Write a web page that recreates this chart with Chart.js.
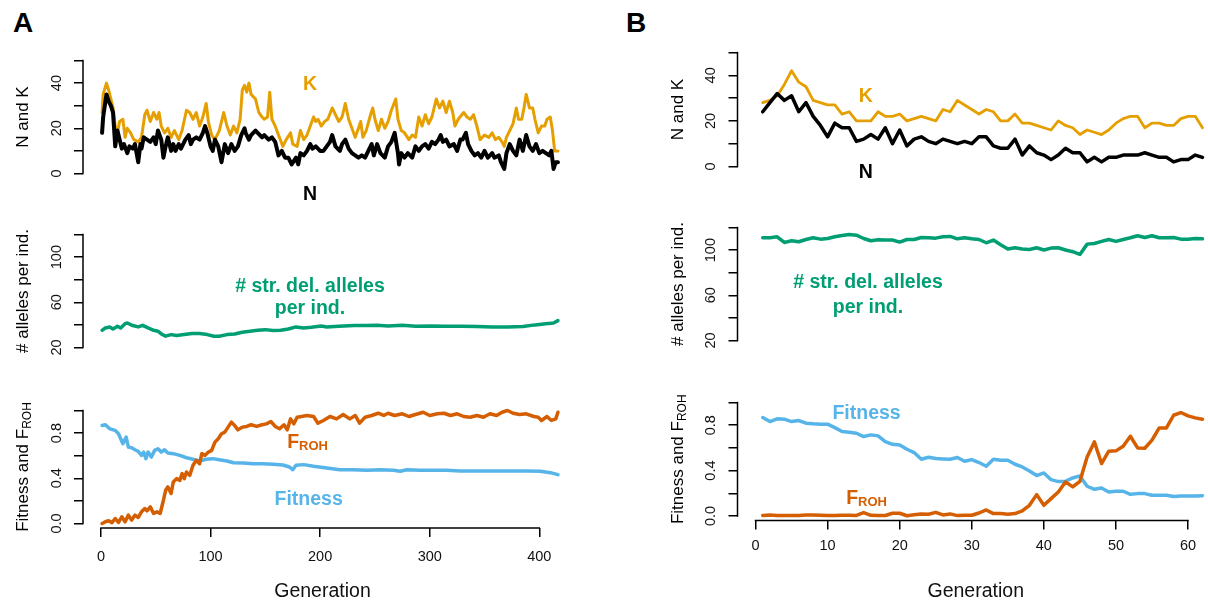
<!DOCTYPE html>
<html><head><meta charset="utf-8">
<script src="https://cdn.jsdelivr.net/npm/chart.js@4.4.1/dist/chart.umd.min.js"></script>
<style>
html,body{margin:0;padding:0;background:#fff;overflow:hidden;width:1208px;height:605px;position:relative;}
canvas{position:absolute;}
.letter{position:absolute;font:bold 28px "Liberation Sans",Arial,Helvetica,sans-serif;line-height:28px;color:#000;}
</style></head><body>
<div class="letter" style="left:13px;top:9px">A</div>
<div class="letter" style="left:626px;top:9px">B</div>
<canvas id="aTop" width="582" height="172" style="left:0px;top:36px"></canvas>
<canvas id="aMid" width="582" height="172" style="left:0px;top:210px"></canvas>
<canvas id="aBot" width="582" height="219" style="left:0px;top:386px"></canvas>
<canvas id="bTop" width="580" height="173" style="left:654px;top:28px"></canvas>
<canvas id="bMid" width="580" height="172" style="left:654px;top:203px"></canvas>
<canvas id="bBot" width="580" height="227" style="left:654px;top:378px"></canvas>
<script>
// ---------------- DATA ----------------
// Panel A (long simulation)
const genA_K = [1,2,5,7,8,11,13,15,17,20,22,24,27,30,34,37,40,42,45,48,51,53,55,58,61,64,67,71,74,78,81,84,87,90,93,96,98,101,104,108,112,115,118,121,124,127,129,131,133,135,137,141,144,147,149,152,154,156,159,162,166,169,173,175,179,182,185,188,191,194,196,198,201,204,207,211,214,217,220,223,226,229,232,235,237,239,242,246,248,250,253,256,259,262,265,269,271,274,277,281,284,287,290,293,296,299,302,306,309,312,315,318,321,323,326,331,334,337,340,343,346,350,354,357,360,363,366,368,370,373,376,379,381,384,386,388,391,394,396,399,402,405,407,410,412,414,417];
const kA = [27,35,40,37,35,29,21,18,23,24,16,20,18,15,14,16,26,28,23,27,24,27,21,18,20,16,19,15,19,28,27,24,27,21,25,31,23,17,15,19,27,21,17,21,18,24,37,39,36,40,35,33,27,25,24,25,36,24,21,17,12,15,18,13,12,19,15,17,21,25,23,24,21,23,24,29,26,23,25,31,24,20,16,20,23,16,19,26,29,24,19,24,20,23,28,33,24,19,18,15,17,16,25,21,26,22,25,33,29,32,27,32,27,21,24,27,25,24,26,21,15,17,16,18,15,16,14,12,16,19,22,29,24,24,29,35,29,29,24,18,21,21,24,25,19,10,10];
const genA_N = [1,2,5,7,9,11,13,15,17,19,21,24,26,29,31,34,36,37,39,42,45,48,50,52,55,57,59,61,64,66,68,71,73,77,80,82,84,87,90,93,95,97,100,102,104,107,110,113,116,119,122,125,128,131,132,135,137,141,143,147,149,153,156,159,162,165,168,171,174,178,180,182,185,188,191,193,196,200,203,206,209,211,214,218,220,223,226,229,232,235,238,241,244,247,249,252,255,259,262,265,268,271,272,274,277,280,284,287,290,293,296,299,302,305,308,310,312,315,318,322,325,328,330,333,335,338,341,344,347,350,353,357,359,363,365,368,370,373,376,379,382,385,388,391,394,397,400,403,406,409,411,413,415,417];
const nA = [18,25,35,32,30,27,12,19,15,11,13,9,12,11,13,5,13,11,16,15,14,16,13,19,15,7,12,16,10,13,10,13,11,15,17,13,15,16,15,18,21,18,12,10,15,12,5,13,9,13,10,12,17,20,18,15,17,19,18,16,17,15,16,14,8,10,7,7,4,7,4,9,8,10,13,11,12,10,10,12,14,17,12,10,13,15,11,9,8,7,8,7,10,13,8,13,9,7,12,14,18,9,4,9,7,9,7,12,10,12,13,11,14,13,15,17,14,15,12,13,10,15,15,18,13,10,8,9,7,10,7,9,7,8,5,2,9,13,10,8,15,10,17,12,10,13,9,10,9,8,10,2,5,5];
const genA_del = [1,4,8,11,15,18,22,24,29,34,38,43,48,52,55,59,64,69,76,83,90,97,103,108,115,122,129,136,143,150,157,164,171,178,185,192,201,206,217,231,241,252,262,275,287,301,315,329,343,357,371,385,396,406,413,417];
const delA = [35.2,37.3,38.2,36.4,38.8,37.3,41.1,41.7,39.4,38.2,39.6,37.3,35.2,34.4,32,30,31.4,30.6,31.4,32.3,32.3,31.4,30,30,31.4,32,33.5,34.4,35.2,35.8,35,35.2,36.4,38.2,37.3,37.9,39,38.2,38.8,39.4,39.4,39.6,39,39.6,38.8,39,38.8,38.8,38.5,38.2,38.2,38.5,40,41.1,41.7,43.8];
const genA_fit = [1,4,8,13,16,18,20,23,25,28,31,34,37,39,41,43,46,49,52,55,58,61,66,72,78,84,90,96,102,108,115,121,130,139,148,157,166,172,175,178,185,194,206,218,230,243,255,267,273,279,291,303,315,328,340,352,364,377,389,401,410,417];
const fitA = [0.868,0.874,0.838,0.824,0.794,0.75,0.706,0.765,0.676,0.67,0.653,0.638,0.603,0.632,0.574,0.632,0.588,0.647,0.662,0.632,0.653,0.624,0.618,0.603,0.582,0.568,0.553,0.568,0.574,0.565,0.553,0.538,0.535,0.529,0.529,0.524,0.518,0.5,0.476,0.515,0.521,0.506,0.491,0.476,0.476,0.471,0.476,0.471,0.462,0.476,0.471,0.471,0.471,0.465,0.465,0.465,0.465,0.465,0.465,0.462,0.45,0.432];
const genA_froh = [1,4,7,10,13,16,19,22,25,28,31,34,37,40,42,45,48,51,54,57,59,61,64,66,69,72,74,76,78,81,84,87,90,92,95,98,101,104,107,110,113,116,119,122,125,129,133,137,142,147,151,155,159,163,167,170,173,176,179,183,188,194,198,203,209,215,221,227,232,236,241,247,253,258,262,268,275,281,287,294,300,307,313,319,325,331,337,343,349,355,361,366,371,376,382,388,395,399,402,407,411,415,417];
const frohA = [0,0.015,0.024,0.006,0.044,0.009,0.059,0.015,0.074,0.03,0.074,0.053,0.103,0.132,0.112,0.147,0.088,0.103,0.088,0.206,0.294,0.324,0.265,0.368,0.397,0.382,0.441,0.397,0.456,0.426,0.515,0.559,0.529,0.618,0.603,0.632,0.647,0.72,0.75,0.794,0.809,0.853,0.897,0.868,0.829,0.853,0.859,0.874,0.859,0.874,0.882,0.903,0.859,0.838,0.874,0.829,0.926,0.882,0.941,0.947,0.956,0.947,0.888,0.912,0.947,0.926,0.965,0.926,0.956,0.888,0.941,0.956,0.976,0.956,0.976,0.956,0.971,0.947,0.965,0.985,0.956,0.971,0.976,0.956,0.971,0.947,0.941,0.956,0.941,0.971,0.956,0.985,1.0,0.976,0.965,0.971,0.947,0.941,0.912,0.947,0.912,0.926,0.985];

// Panel B (short simulation)
const genB = [1,2,3,4,5,6,7,8,9,10,11,12,13,14,15,16,17,18,19,20,21,22,23,24,25,26,27,28,29,30,31,32,33,34,35,36,37,38,39,40,41,42,43,44,45,46,47,48,49,50,51,52,53,54,55,56,57,58,59,60,61,62];
const kB = [28,29,31,36,42,37,35,29,28,27,27,23,24,20,20,20,24,22,22,23,20,21,22,21,20,25,24,29,27,25,23,25,24,20,20,23,19,19,18,17,16,20,18,17,14,16,15,14,16,19,21,22,22,17,19,19,18,18,21,22,22,17];
const nB = [24,28,32,29,31,24,28,22,18,13,19,17,17,11,12,14,12,17,10,16,9,12,13,11,10,12,11,10,11,10,13,13,9,8,8,12,5,9,6,5,3,5,8,6,6,2,4,2,4,4,5,5,5,6,5,4,4,2,3,3,5,4];
const delB = [110.9,110.9,111.8,106.8,108.3,107.4,109.4,110.9,109.7,110.3,111.8,113,113.8,113.2,110.3,108.3,109.1,108.9,108.9,107.1,109.4,109.4,111.2,110.9,110.6,111.8,112.1,110,110.9,110,109.4,106.5,108.9,104.7,100.9,102.1,100.9,100.6,102.1,100.1,101.8,102.1,100.1,98.6,96.2,105.3,105.9,107.7,109.4,107.7,109.4,110.9,112.7,111.2,112.7,110.9,110.9,111.2,109.7,109.7,110.3,110];
const fitB = [0.868,0.832,0.856,0.853,0.832,0.841,0.818,0.812,0.809,0.809,0.779,0.744,0.738,0.729,0.7,0.715,0.706,0.656,0.632,0.626,0.588,0.559,0.5,0.518,0.506,0.503,0.5,0.515,0.482,0.497,0.471,0.438,0.5,0.491,0.491,0.456,0.432,0.397,0.356,0.379,0.32,0.303,0.306,0.335,0.353,0.262,0.235,0.247,0.212,0.218,0.218,0.191,0.197,0.197,0.182,0.182,0.182,0.171,0.176,0.176,0.176,0.179];
const frohB = [0.005,0.008,0.005,0.005,0.005,0.005,0.008,0.008,0.006,0.005,0.005,0.007,0.006,0.005,0.03,0.006,0.004,0.004,0.024,0.024,0.002,0.01,0.018,0.015,0.032,0.009,0.018,0.003,0.006,0.006,0.026,0.053,0.021,0.021,0.015,0.021,0.044,0.094,0.188,0.094,0.153,0.212,0.3,0.256,0.306,0.52,0.653,0.462,0.571,0.574,0.615,0.703,0.6,0.597,0.668,0.776,0.776,0.888,0.912,0.882,0.865,0.853];

// Ticks
const xTicksA = [0,100,200,300,400];
const xTicksB = [0,10,20,30,40,50,60];
const yTicksNK = [0,10,20,30,40,50];
const yLabelsNK = [0,20,40];
const yTicksDel = [20,40,60,80,100,120];
const yLabelsDel = [20,60,100];
const yTicksFit = [0,0.2,0.4,0.6,0.8,1.0];
const yLabelsFit = [0,0.4,0.8];

// ---------------- STYLE ----------------
const FONT = '"Liberation Sans", Arial, Helvetica, sans-serif';
const TICK_SIZE = 14.5;
const C_K = '#E69F00', C_N = '#000000', C_DEL = '#009E73', C_FROH = '#D55E00', C_FIT = '#56B4E9';

function drawParts(ctx, parts, x, y, rotate) {
  ctx.save();
  ctx.translate(x, y);
  if (rotate) ctx.rotate(-Math.PI / 2);
  ctx.textAlign = 'left';
  ctx.textBaseline = 'alphabetic';
  const fonts = parts.map(p => (p.bold ? 'bold ' : '') + p.size + 'px ' + FONT);
  const widths = parts.map((p, i) => { ctx.font = fonts[i]; return ctx.measureText(p.t).width; });
  let cx = -widths.reduce((a, b) => a + b, 0) / 2;
  parts.forEach((p, i) => {
    ctx.font = fonts[i];
    ctx.fillStyle = p.color || '#000';
    ctx.fillText(p.t, cx, p.dy || 0);
    cx += widths[i];
  });
  ctx.restore();
}

const TEXTS = {
  aTop: {
    ytitle: [{t: 'N and K', size: 17}],
    labels: [
      {gx: 190.7, vy: 37, parts: [{t: 'K', size: 19.5, bold: true, color: C_K}]},
      {gx: 190.7, vy: -11.7, parts: [{t: 'N', size: 19.5, bold: true, color: C_N}]}
    ]
  },
  aMid: {
    ytitle: [{t: '# alleles per ind.', size: 17}],
    labels: [
      {gx: 190.7, vy: 69.1, parts: [{t: '# str. del. alleles', size: 19.5, bold: true, color: C_DEL}]},
      {gx: 190.7, vy: 49.6, parts: [{t: 'per ind.', size: 19.5, bold: true, color: C_DEL}]}
    ]
  },
  aBot: {
    ytitle: [{t: 'Fitness and F', size: 17}, {t: 'ROH', size: 12, dy: 3}],
    labels: [
      {gx: 188.5, vy: 0.666, parts: [{t: 'F', size: 19.5, bold: true, color: C_FROH}, {t: 'ROH', size: 13, bold: true, color: C_FROH, dy: 2}]},
      {gx: 189.5, vy: 0.164, parts: [{t: 'Fitness', size: 19.5, bold: true, color: C_FIT}]}
    ]
  },
  bTop: {
    ytitle: [{t: 'N and K', size: 17}],
    labels: [
      {gx: 15.3, vy: 28.4, parts: [{t: 'K', size: 19.5, bold: true, color: C_K}]},
      {gx: 15.3, vy: -5.07, parts: [{t: 'N', size: 19.5, bold: true, color: C_N}]}
    ]
  },
  bMid: {
    ytitle: [{t: '# alleles per ind.', size: 17}],
    labels: [
      {gx: 15.6, vy: 66.5, parts: [{t: '# str. del. alleles', size: 19.5, bold: true, color: C_DEL}]},
      {gx: 15.6, vy: 44.3, parts: [{t: 'per ind.', size: 19.5, bold: true, color: C_DEL}]}
    ]
  },
  bBot: {
    ytitle: [{t: 'Fitness and F', size: 17}, {t: 'ROH', size: 12, dy: 3}],
    labels: [
      {gx: 15.4, vy: 0.852, parts: [{t: 'Fitness', size: 19.5, bold: true, color: C_FIT}]},
      {gx: 15.4, vy: 0.105, parts: [{t: 'F', size: 19.5, bold: true, color: C_FROH}, {t: 'ROH', size: 13, bold: true, color: C_FROH, dy: 2}]}
    ]
  }
};

const richText = {
  id: 'richText',
  afterDraw(chart) {
    const cfg = TEXTS[chart.canvas.id];
    if (!cfg) return;
    const ctx = chart.ctx, xs = chart.scales.x, ys = chart.scales.y, ca = chart.chartArea;
    cfg.labels.forEach(l => drawParts(ctx, l.parts, xs.getPixelForValue(l.gx), ys.getPixelForValue(l.vy), false));
    drawParts(ctx, cfg.ytitle, ca.left - 55, (ca.top + ca.bottom) / 2, true);
  }
};

// R-style axis lines: from first to last tick only
const axisLines = {
  id: 'axisLines',
  afterDraw(chart) {
    const ctx = chart.ctx, ca = chart.chartArea;
    ctx.save();
    ctx.strokeStyle = '#000';
    ctx.lineWidth = 1.5;
    ctx.lineCap = 'square';
    Object.values(chart.scales).forEach(s => {
      if (!s.options.display || !s.ticks.length) return;
      const a = s.getPixelForValue(s.ticks[0].value);
      const b = s.getPixelForValue(s.ticks[s.ticks.length - 1].value);
      ctx.beginPath();
      if (s.isHorizontal()) { ctx.moveTo(a, ca.bottom); ctx.lineTo(b, ca.bottom); }
      else { ctx.moveTo(ca.left, a); ctx.lineTo(ca.left, b); }
      ctx.stroke();
    });
    ctx.restore();
  }
};

function series(xs, ys, color, w) {
  return {
    data: xs.map((x, i) => ({x: x, y: ys[i]})),
    borderColor: color, borderWidth: w, pointRadius: 0, pointHoverRadius: 0,
    fill: false, tension: 0, borderJoinStyle: 'round', borderCapStyle: 'round'
  };
}

function yAxis(min, max, tickVals, labelVals, fmt, pad, yw) {
  return {
    type: 'linear', position: 'left', min: min, max: max,
    afterBuildTicks: s => { s.ticks = tickVals.map(v => ({value: v})); },
    afterFit: s => { s.width = yw; },
    border: {display: false},
    grid: {display: true, drawOnChartArea: false, drawTicks: true, tickLength: 9, color: '#000', lineWidth: 1.5},
    ticks: {
      autoSkip: false, minRotation: 90, maxRotation: 90, crossAlign: 'center', padding: pad,
      color: '#111', font: {family: FONT, size: TICK_SIZE},
      callback: v => labelVals.includes(v) ? fmt(v) : ''
    },
    title: {display: false}
  };
}

function xAxis(min, max, tickVals, show, xh, tpad) {
  return {
    type: 'linear', position: 'bottom', min: min, max: max, display: show,
    afterBuildTicks: s => { s.ticks = tickVals.map(v => ({value: v})); },
    afterFit: s => { if (show) s.height = xh; },
    border: {display: false},
    grid: {display: true, drawOnChartArea: false, drawTicks: true, tickLength: 9, color: '#000', lineWidth: 1.5},
    ticks: {autoSkip: false, minRotation: 0, maxRotation: 0, padding: tpad, color: '#111', font: {family: FONT, size: TICK_SIZE}},
    title: {display: show, text: 'Generation', color: '#111', font: {family: FONT, size: 19.5}, padding: {top: 0, bottom: 1.6}}
  };
}

function make(id, datasets, x, y, bottomAxis) {
  return new Chart(document.getElementById(id), {
    type: 'line',
    data: {datasets: datasets},
    options: {
      responsive: false, animation: false, events: [],
      layout: {padding: {left: 0, right: 20, top: 20, bottom: bottomAxis ? 0 : 30}},
      plugins: {legend: {display: false}, tooltip: {enabled: false}, title: {display: false}},
      scales: {x: x, y: y}
    },
    plugins: [axisLines, richText]
  });
}

const int = v => String(v);
const one = v => v.toFixed(1);

// Panel A
const AX = [-16.4, 420.7];
make('aTop', [series(genA_N, nA, C_N, 4), series(genA_K, kA, C_K, 3)],
  xAxis(AX[0], AX[1], xTicksA, false, 0, 0), yAxis(-2, 52, yTicksNK, yLabelsNK, int, 9, 83), false);
make('aMid', [series(genA_del, delA, C_DEL, 3.5)],
  xAxis(AX[0], AX[1], xTicksA, false, 0, 0), yAxis(16, 124, yTicksDel, yLabelsDel, int, 5, 83), false);
make('aBot', [series(genA_froh, frohA, C_FROH, 3.5), series(genA_fit, fitA, C_FIT, 3.5)],
  xAxis(AX[0], AX[1], xTicksA, true, 77, 11), yAxis(-0.04, 1.04, yTicksFit, yLabelsFit, one, 7, 83), true);

// Panel B
const BX = [-2.5, 63.6];
make('bTop', [series(genB, nB, C_N, 3.5), series(genB, kB, C_K, 2.8)],
  xAxis(BX[0], BX[1], xTicksB, false, 0, 0), yAxis(-2, 52, yTicksNK, yLabelsNK, int, 9, 83.5), false);
make('bMid', [series(genB, delB, C_DEL, 3.5)],
  xAxis(BX[0], BX[1], xTicksB, false, 0, 0), yAxis(16, 124, yTicksDel, yLabelsDel, int, 5, 83.5), false);
make('bBot', [series(genB, frohB, C_FROH, 3.5), series(genB, fitB, C_FIT, 3.5)],
  xAxis(BX[0], BX[1], xTicksB, true, 84.5, 8), yAxis(-0.04, 1.04, yTicksFit, yLabelsFit, one, 7, 83.5), true);
</script>
</body></html>
